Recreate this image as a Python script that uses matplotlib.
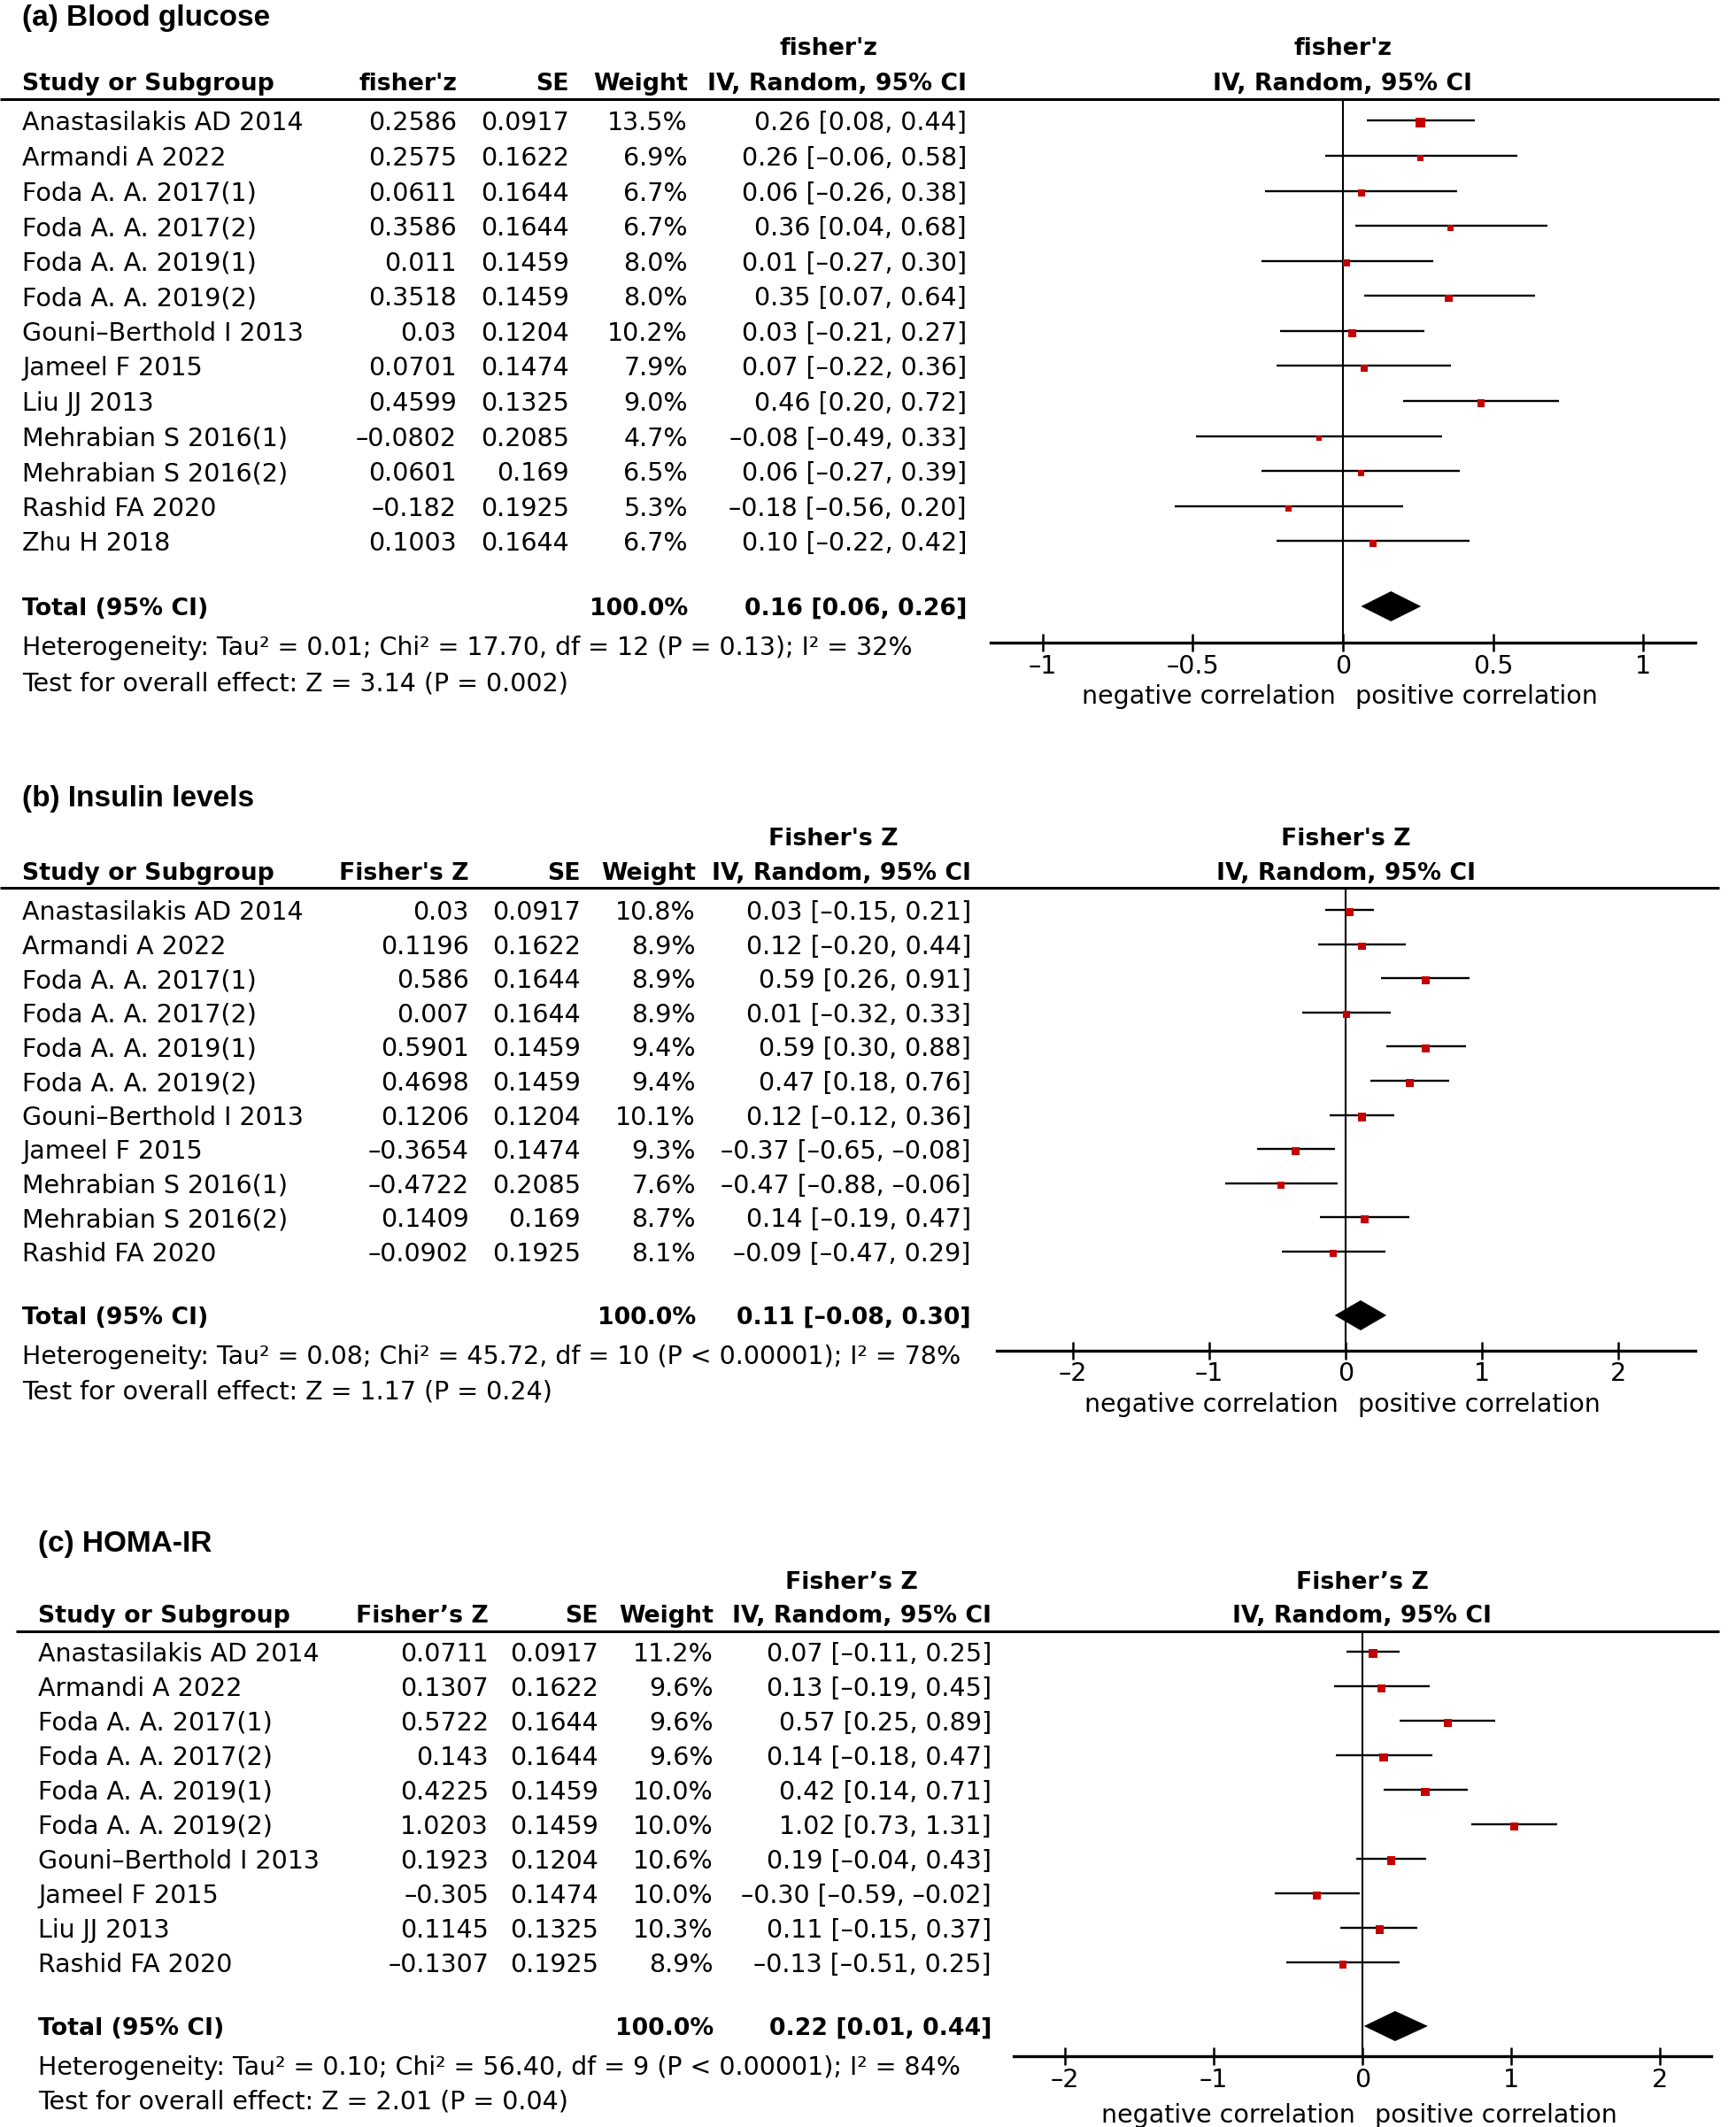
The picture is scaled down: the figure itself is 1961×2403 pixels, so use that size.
import matplotlib
matplotlib.use("Agg")
import matplotlib.pyplot as plt

plt.rcParams['font.family'] = 'DejaVu Sans'

W, H = 1961, 2403
FS = 20.5      # body text
FSB = 19.3     # bold header text
DY_TXT = 3     # small baseline nudge for text, px
RED = '#c40000'

# ---------------- data ----------------
a_studies = ["Anastasilakis AD 2014", "Armandi A 2022", "Foda A. A. 2017(1)", "Foda A. A. 2017(2)",
             "Foda A. A. 2019(1)", "Foda A. A. 2019(2)", "Gouni–Berthold I 2013", "Jameel F 2015",
             "Liu JJ 2013", "Mehrabian S 2016(1)", "Mehrabian S 2016(2)", "Rashid FA 2020", "Zhu H 2018"]
a_z = [0.2586, 0.2575, 0.0611, 0.3586, 0.011, 0.3518, 0.03, 0.0701, 0.4599, -0.0802, 0.0601, -0.182, 0.1003]
a_se = [0.0917, 0.1622, 0.1644, 0.1644, 0.1459, 0.1459, 0.1204, 0.1474, 0.1325, 0.2085, 0.169, 0.1925, 0.1644]
a_weight = [13.5, 6.9, 6.7, 6.7, 8.0, 8.0, 10.2, 7.9, 9.0, 4.7, 6.5, 5.3, 6.7]
a_est = [0.26, 0.26, 0.06, 0.36, 0.01, 0.35, 0.03, 0.07, 0.46, -0.08, 0.06, -0.18, 0.10]
a_lo = [0.08, -0.06, -0.26, 0.04, -0.27, 0.07, -0.21, -0.22, 0.20, -0.49, -0.27, -0.56, -0.22]
a_hi = [0.44, 0.58, 0.38, 0.68, 0.30, 0.64, 0.27, 0.36, 0.72, 0.33, 0.39, 0.20, 0.42]
a_total = (0.16, 0.06, 0.26)
a_het = "Heterogeneity: Tau² = 0.01; Chi² = 17.70, df = 12 (P = 0.13); I² = 32%"
a_test = "Test for overall effect: Z = 3.14 (P = 0.002)"
a_ticks = [-1, -0.5, 0, 0.5, 1]
a_ticklabels = ["–1", "–0.5", "0", "0.5", "1"]

b_studies = ["Anastasilakis AD 2014", "Armandi A 2022", "Foda A. A. 2017(1)", "Foda A. A. 2017(2)",
             "Foda A. A. 2019(1)", "Foda A. A. 2019(2)", "Gouni–Berthold I 2013", "Jameel F 2015",
             "Mehrabian S 2016(1)", "Mehrabian S 2016(2)", "Rashid FA 2020"]
b_z = [0.03, 0.1196, 0.586, 0.007, 0.5901, 0.4698, 0.1206, -0.3654, -0.4722, 0.1409, -0.0902]
b_se = [0.0917, 0.1622, 0.1644, 0.1644, 0.1459, 0.1459, 0.1204, 0.1474, 0.2085, 0.169, 0.1925]
b_weight = [10.8, 8.9, 8.9, 8.9, 9.4, 9.4, 10.1, 9.3, 7.6, 8.7, 8.1]
b_est = [0.03, 0.12, 0.59, 0.01, 0.59, 0.47, 0.12, -0.37, -0.47, 0.14, -0.09]
b_lo = [-0.15, -0.20, 0.26, -0.32, 0.30, 0.18, -0.12, -0.65, -0.88, -0.19, -0.47]
b_hi = [0.21, 0.44, 0.91, 0.33, 0.88, 0.76, 0.36, -0.08, -0.06, 0.47, 0.29]
b_total = (0.11, -0.08, 0.30)
b_het = "Heterogeneity: Tau² = 0.08; Chi² = 45.72, df = 10 (P < 0.00001); I² = 78%"
b_test = "Test for overall effect: Z = 1.17 (P = 0.24)"
b_ticks = [-2, -1, 0, 1, 2]
b_ticklabels = ["–2", "–1", "0", "1", "2"]

c_studies = ["Anastasilakis AD 2014", "Armandi A 2022", "Foda A. A. 2017(1)", "Foda A. A. 2017(2)",
             "Foda A. A. 2019(1)", "Foda A. A. 2019(2)", "Gouni–Berthold I 2013", "Jameel F 2015",
             "Liu JJ 2013", "Rashid FA 2020"]
c_z = [0.0711, 0.1307, 0.5722, 0.143, 0.4225, 1.0203, 0.1923, -0.305, 0.1145, -0.1307]
c_se = [0.0917, 0.1622, 0.1644, 0.1644, 0.1459, 0.1459, 0.1204, 0.1474, 0.1325, 0.1925]
c_weight = [11.2, 9.6, 9.6, 9.6, 10.0, 10.0, 10.6, 10.0, 10.3, 8.9]
c_est = [0.07, 0.13, 0.57, 0.14, 0.42, 1.02, 0.19, -0.30, 0.11, -0.13]
c_lo = [-0.11, -0.19, 0.25, -0.18, 0.14, 0.73, -0.04, -0.59, -0.15, -0.51]
c_hi = [0.25, 0.45, 0.89, 0.47, 0.71, 1.31, 0.43, -0.02, 0.37, 0.25]
c_total = (0.22, 0.01, 0.44)
c_het = "Heterogeneity: Tau² = 0.10; Chi² = 56.40, df = 9 (P < 0.00001); I² = 84%"
c_test = "Test for overall effect: Z = 2.01 (P = 0.04)"
c_ticks = [-2, -1, 0, 1, 2]
c_ticklabels = ["–2", "–1", "0", "1", "2"]

# ---------------- layout (pixels) ----------------
panels = [
    dict(title="(a) Blood glucose", zname="fisher'z", studies=a_studies, z=a_z, se=a_se, w=a_weight,
         est=a_est, lo=a_lo, hi=a_hi, total=a_total, het=a_het, test=a_test,
         ticks=a_ticks, ticklabels=a_ticklabels,
         left=25, title_y=18, h1_y=52, h2_y=92, line_y=112, line_x0=0,
         y0=136.4, dy=39.58, total_y=685, het_y=729, test_y=769,
         cols=(516, 643, 777, 1092), h1_x=936,
         ax_y=726, ax_x0=1119, ax_x1=1915, zero_x=1517, unit=339.3,
         nl_y=784),
    dict(title="(b) Insulin levels", zname="Fisher's Z", studies=b_studies, z=b_z, se=b_se, w=b_weight,
         est=b_est, lo=b_lo, hi=b_hi, total=b_total, het=b_het, test=b_test,
         ticks=b_ticks, ticklabels=b_ticklabels,
         left=25, title_y=899, h1_y=945, h2_y=984, line_y=1003, line_x0=0,
         y0=1028, dy=38.6, total_y=1486, het_y=1530, test_y=1570,
         cols=(530, 656, 786, 1097), h1_x=941,
         ax_y=1526, ax_x0=1126, ax_x1=1915, zero_x=1520, unit=154,
         nl_y=1584),
    dict(title="(c) HOMA-IR", zname="Fisher’s Z", studies=c_studies, z=c_z, se=c_se, w=c_weight,
         est=c_est, lo=c_lo, hi=c_hi, total=c_total, het=c_het, test=c_test,
         ticks=c_ticks, ticklabels=c_ticklabels,
         left=43, title_y=1742, h1_y=1785, h2_y=1823, line_y=1843, line_x0=18,
         y0=1866, dy=38.98, total_y=2289, het_y=2333, test_y=2372,
         cols=(552, 676, 806, 1120), h1_x=962,
         ax_y=2323, ax_x0=1145, ax_x1=1933, zero_x=1539, unit=168,
         nl_y=2387),
]


def num(v):
    return str(v).replace('-', '–')


def ci_text(e, l, h):
    return f"{e:.2f} [{l:.2f}, {h:.2f}]".replace('-', '–')


fig = plt.figure(figsize=(W / 100, H / 100), dpi=100)
bg = fig.add_axes([0, 0, 1, 1])
bg.set_xlim(0, W)
bg.set_ylim(H, 0)
bg.axis('off')


def txt(x, y, s, ha='left', bold=False, **kw):
    bg.text(x, y + DY_TXT, s, fontsize=FSB if bold else FS, fontweight='bold' if bold else 'normal',
            ha=ha, va='center', **kw)


for p in panels:
    L = p['left']
    c_z_x, c_se_x, c_w_x, c_ci_x = p['cols']
    # title and headers
    bg.text(L, p['title_y'] + DY_TXT, p['title'], fontsize=24, fontweight='bold', family='Liberation Sans',
            va='center', ha='left')
    txt(p['h1_x'], p['h1_y'], p['zname'], ha='center', bold=True)
    txt(p['zero_x'], p['h1_y'], p['zname'], ha='center', bold=True)
    txt(L, p['h2_y'], "Study or Subgroup", bold=True)
    txt(c_z_x, p['h2_y'], p['zname'], ha='right', bold=True)
    txt(c_se_x, p['h2_y'], "SE", ha='right', bold=True)
    txt(c_w_x, p['h2_y'], "Weight", ha='right', bold=True)
    txt(c_ci_x, p['h2_y'], "IV, Random, 95% CI", ha='right', bold=True)
    txt(p['zero_x'], p['h2_y'], "IV, Random, 95% CI", ha='center', bold=True)
    bg.plot([p['line_x0'], 1942], [p['line_y'], p['line_y']], color='black', lw=2.2, solid_capstyle='butt')

    # study rows
    for i, s in enumerate(p['studies']):
        y = p['y0'] + i * p['dy']
        txt(L, y, s)
        txt(c_z_x, y, num(p['z'][i]), ha='right')
        txt(c_se_x, y, num(p['se'][i]), ha='right')
        txt(c_w_x, y, f"{p['w'][i]:.1f}%", ha='right')
        txt(c_ci_x, y, ci_text(p['est'][i], p['lo'][i], p['hi'][i]), ha='right')

    te, tl, th = p['total']
    txt(L, p['total_y'], "Total (95% CI)", bold=True)
    txt(c_w_x, p['total_y'], "100.0%", ha='right', bold=True)
    txt(c_ci_x, p['total_y'], ci_text(te, tl, th), ha='right', bold=True)
    txt(L, p['het_y'], p['het'])
    txt(L, p['test_y'], p['test'])
    txt(p['zero_x'] - 8, p['nl_y'], "negative correlation", ha='right')
    txt(p['zero_x'] + 14, p['nl_y'], "positive correlation")

    # forest axes
    x0, x1 = p['ax_x0'], p['ax_x1']
    top, bot = p['line_y'], p['ax_y']
    ax = fig.add_axes([x0 / W, 1 - bot / H, (x1 - x0) / W, (bot - top) / H])
    ax.patch.set_alpha(0)
    ax.set_xlim((x0 - p['zero_x']) / p['unit'], (x1 - p['zero_x']) / p['unit'])
    ax.set_ylim((bot - p['y0']) / p['dy'], (top - p['y0']) / p['dy'])
    for sp in ('top', 'left', 'right'):
        ax.spines[sp].set_visible(False)
    ax.spines['bottom'].set_linewidth(2.4)
    ax.set_yticks([])
    ax.set_xticks(p['ticks'])
    ax.set_xticklabels(p['ticklabels'])
    ax.tick_params(axis='x', direction='inout', length=14, width=1.8, labelsize=FS, pad=2)

    ax.axvline(0, color='black', lw=1.5, zorder=1)
    n = len(p['studies'])
    rows = list(range(n))
    ax.hlines(rows, p['lo'], p['hi'], color='black', lw=1.7, zorder=2)
    # square side proportional to sqrt(weight)
    sizes = [(2.93 * wt ** 0.5 / 1.389) ** 2 for wt in p['w']]
    ax.scatter(p['z'], [r + 0.06 for r in rows], s=sizes, marker='s', color=RED, linewidths=0, zorder=3)

    # pooled diamond
    ty = (p['total_y'] - p['y0']) / p['dy']
    hh = 17 / p['dy']
    ax.fill([tl, te, th, te], [ty, ty - hh, ty, ty + hh], color='black', lw=0, zorder=3)

fig.savefig('out.png', dpi=100)
